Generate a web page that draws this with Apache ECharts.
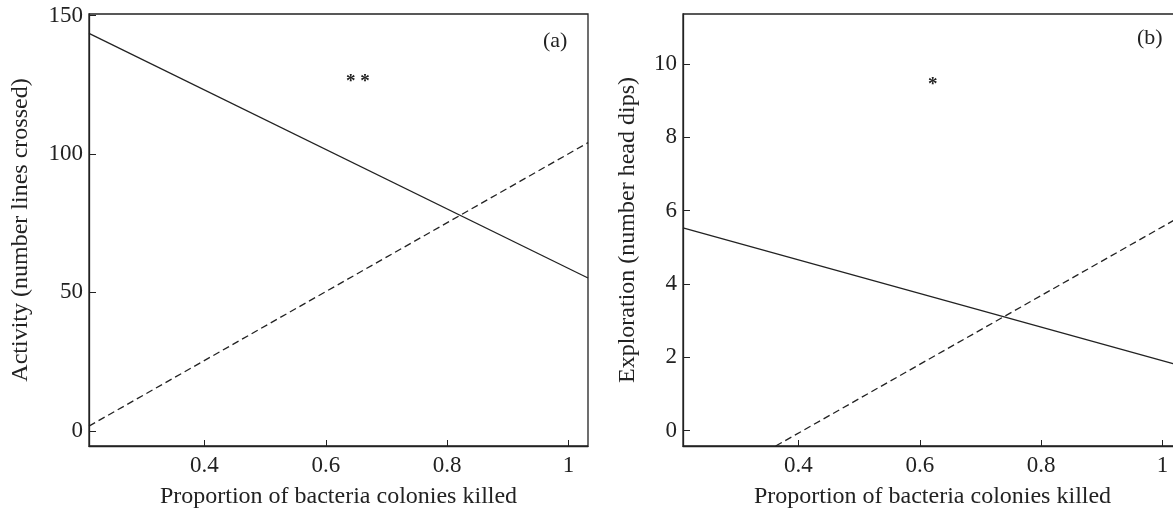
<!DOCTYPE html>
<html>
<head>
<meta charset="utf-8">
<script src="https://cdn.jsdelivr.net/npm/echarts@6/dist/echarts.min.js"></script>
<style>
  html, body { margin: 0; padding: 0; background: #fff; overflow: hidden; }
  #chart { width: 1195px; height: 509px; }
</style>
</head>
<body>
<div id="chart"></div>
<script>
  // x range of both panels
  var xRange = [0.21, 1.032];
  var xTicks = [0.4, 0.6, 0.8, 1];

  // panel (a): activity
  var actTicks = [0, 50, 100, 150];
  var actSolid = [[0.21, 143.6], [1.032, 55.2]];
  var actDashed = [[0.21, 1.7], [1.032, 104.1]];

  // panel (b): exploration
  var expTicks = [0, 2, 4, 6, 8, 10];
  var expSolid = [[0.21, 5.53], [1.032, 1.76]];
  var expDashed = [[0.3627, -0.42], [1.032, 5.86]];

  var ink = '#222';
  var serif = '"Liberation Serif", "DejaVu Serif", serif';

  function xAxisFor(idx) {
    return {
      type: 'value', gridIndex: idx, min: xRange[0], max: xRange[1],
      name: 'Proportion of bacteria colonies killed',
      nameLocation: 'middle', nameGap: 39,
      nameTextStyle: { fontFamily: serif, fontSize: 24, color: ink },
      axisLine: { onZero: false, lineStyle: { color: ink, width: 1.3 } },
      axisTick: { inside: true, length: 6, customValues: xTicks, lineStyle: { color: ink } },
      axisLabel: { customValues: xTicks, margin: 8, fontFamily: serif, fontSize: 23, color: ink },
      splitLine: { show: false }
    };
  }

  function yAxisFor(idx, min, max, ticks, name, gap) {
    return {
      type: 'value', gridIndex: idx, min: min, max: max,
      name: name, nameLocation: 'middle', nameGap: gap,
      nameTextStyle: { fontFamily: serif, fontSize: 24, color: ink },
      axisLine: { onZero: false, lineStyle: { color: ink, width: 1.3 } },
      axisTick: { inside: true, length: 7, customValues: ticks, lineStyle: { color: ink } },
      axisLabel: { customValues: ticks, margin: 6, fontFamily: serif, fontSize: 23, color: ink },
      splitLine: { show: false }
    };
  }

  function lineSeries(idx, data, dashed) {
    return {
      type: 'line', xAxisIndex: idx, yAxisIndex: idx, data: data,
      showSymbol: false, silent: true, clip: true,
      lineStyle: { color: ink, width: 1.3, type: dashed ? [7, 4] : 'solid' }
    };
  }

  var chart = echarts.init(document.getElementById('chart'));
  chart.setOption({
    animation: false,
    backgroundColor: '#fff',
    grid: [
      { left: 89, top: 14, width: 499, height: 432, outerBoundsMode: 'none',
        show: true, borderColor: ink, borderWidth: 1.3 },
      { left: 683, top: 14, width: 499, height: 432, outerBoundsMode: 'none',
        show: true, borderColor: ink, borderWidth: 1.3 }
    ],
    xAxis: [xAxisFor(0), xAxisFor(1)],
    yAxis: [
      yAxisFor(0, -5.5, 150.6, actTicks, 'Activity (number lines crossed)', 56),
      yAxisFor(1, -0.42, 11.36, expTicks, 'Exploration (number head dips)', 43)
    ],
    series: [
      lineSeries(0, actSolid, false),
      lineSeries(0, actDashed, true),
      lineSeries(1, expSolid, false),
      lineSeries(1, expDashed, true)
    ],
    graphic: [
      { type: 'text', left: 543, top: 30, style: { text: '(a)', font: '22px ' + serif, fill: ink } },
      { type: 'text', left: 1137, top: 27, style: { text: '(b)', font: '22px ' + serif, fill: ink } },
      { type: 'text', left: 346, top: 73, style: { text: '* *', font: 'bold 19px ' + serif, fill: ink } },
      { type: 'text', left: 928, top: 76, style: { text: '*', font: 'bold 19px ' + serif, fill: ink } }
    ]
  });
</script>
</body>
</html>
